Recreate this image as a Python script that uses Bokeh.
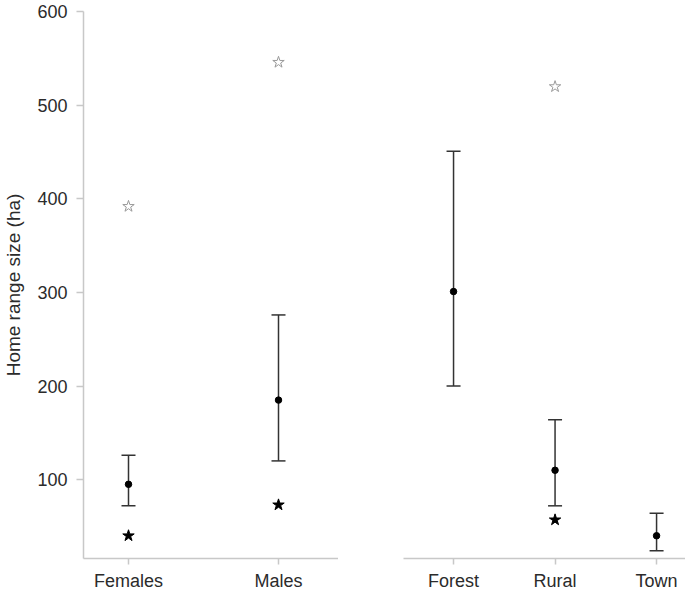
from bokeh.plotting import figure
from bokeh.models import Range1d, FixedTicker, ColumnDataSource, Whisker, TeeHead
from bokeh.layouts import row
from bokeh.embed import file_html
from bokeh.resources import INLINE

# ---- data ----
sex_groups = ["Females", "Males"]
sex_mean = [95, 185]
sex_lower = [72, 120]
sex_upper = [126, 276]
sex_filled_star = [40, 73]
sex_open_star = [392, 546]

habitats = ["Forest", "Rural", "Town"]
hab_mean = [301, 110, 40]
hab_lower = [200, 72, 24]
hab_upper = [451, 164, 64]
hab_star_groups = ["Rural"]
hab_filled_star = [57]
hab_open_star = [520]

y_ticks = [100, 200, 300, 400, 500, 600]

FONT = "Liberation Sans"
AXIS_COLOR = "#c8c8c8"
TEXT_COLOR = "#2b2b2b"
BAR_COLOR = "#333333"

y_range = Range1d(15.7, 600.3)


def style(p):
    p.outline_line_color = None
    p.xgrid.visible = False
    p.ygrid.visible = False
    p.background_fill_color = "white"
    for ax in p.axis:
        ax.axis_line_color = AXIS_COLOR
        ax.axis_line_width = 1.5
        ax.major_tick_line_color = AXIS_COLOR
        ax.major_tick_line_width = 1.5
        ax.minor_tick_line_color = None
        ax.major_label_text_font = FONT
        ax.major_label_text_color = TEXT_COLOR
        ax.major_label_text_font_size = "18px"
    p.xaxis.major_tick_in = 0
    p.xaxis.major_tick_out = 6
    p.xaxis.major_label_standoff = 6


def draw(p, cats, mean, lower, upper, star_cats, filled, opened):
    xs = [cats.index(c) + 1 for c in cats]
    src = ColumnDataSource(dict(x=xs, mean=mean, lower=lower, upper=upper))
    w = Whisker(source=src, base="x", upper="upper", lower="lower",
                dimension="height", line_color=BAR_COLOR, line_width=1.5,
                upper_head=TeeHead(size=14, line_color=BAR_COLOR, line_width=1.5),
                lower_head=TeeHead(size=14, line_color=BAR_COLOR, line_width=1.5))
    p.add_layout(w)
    p.scatter("x", "mean", source=src, marker="circle", size=6.5,
              fill_color="black", line_color="black")
    sx = [cats.index(c) + 1 for c in star_cats]
    p.scatter(sx, filled, marker="star", size=12, fill_color="black",
              line_color="black")
    p.scatter(sx, opened, marker="star", size=12, fill_color="white",
              line_color="#9a9a9a", line_width=1)
    p.xaxis.ticker = FixedTicker(ticks=xs)
    p.xaxis.major_label_overrides = {x: c for x, c in zip(xs, cats)}


p1 = figure(width=338, height=593, x_range=Range1d(0.7, 2.4),
            y_range=y_range, output_backend="svg", toolbar_location=None,
            min_border_left=83, min_border_right=0, min_border_top=11,
            min_border_bottom=32)
style(p1)
p1.yaxis.ticker = FixedTicker(ticks=y_ticks)
p1.yaxis.major_tick_in = 0
p1.yaxis.major_tick_out = 7
p1.yaxis.major_label_standoff = 9
p1.yaxis.axis_label = "Home range size (ha)"
p1.yaxis.axis_label_text_font = FONT
p1.yaxis.axis_label_text_font_style = "normal"
p1.yaxis.axis_label_text_font_size = "19px"
p1.yaxis.axis_label_text_color = TEXT_COLOR
p1.yaxis.axis_label_standoff = 10
draw(p1, sex_groups, sex_mean, sex_lower, sex_upper,
     sex_groups, sex_filled_star, sex_open_star)

p2 = figure(width=347, height=593, x_range=Range1d(0.507, 3.285),
            y_range=y_range, output_backend="svg", toolbar_location=None,
            min_border_left=65, min_border_right=0, min_border_top=11,
            min_border_bottom=32)
style(p2)
p2.yaxis.visible = False
draw(p2, habitats, hab_mean, hab_lower, hab_upper,
     hab_star_groups, hab_filled_star, hab_open_star)

layout = row(p1, p2, spacing=0)
open("out.html", "w").write(file_html(layout, INLINE))
